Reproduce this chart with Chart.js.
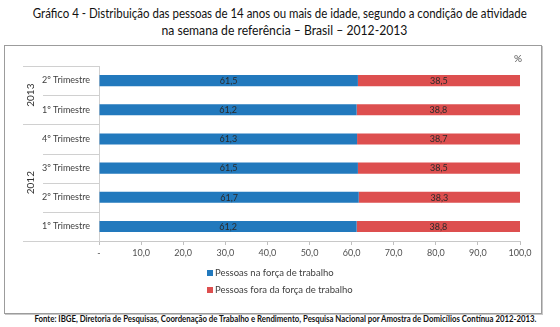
<!DOCTYPE html>
<html>
<head>
<meta charset="utf-8">
<script src="https://cdn.jsdelivr.net/npm/chart.js@4"></script>
<style>
  body { margin: 0; background: #fff; width: 560px; height: 327px; position: relative; font-family: Lato, "Open Sans", sans-serif; overflow: hidden; }
  .line { position: absolute; left: -220px; width: 1000px; text-align: center; white-space: nowrap; }
  .line span { display: inline-block; transform-origin: 50% 50%; }
  #t1 { top: 5px; }
  #t2 { top: 22px; left: -216px; }
  .title { font-size: 13.5px; line-height: 17px; color: #111; }
  #box { position: absolute; left: 4px; top: 45px; width: 536px; height: 267px; border: 1px solid #9c9c9c; box-shadow: 1px 1px 0 #c8c8c8; }
  #wrap { position: absolute; left: 0; top: 0; width: 537px; height: 267px; }
  #legend { position: absolute; left: 202px; top: 220px; font-size: 9.5px; color: #404040; }
  #legend div { height: 17px; line-height: 14px; }
  #legend span.sw { display: inline-block; width: 6px; height: 6px; margin-right: 2px; vertical-align: 0px; }
  #fonte { top: 313px; left: -215px; font-size: 8.8px; font-weight: bold; color: #111; }
</style>
</head>
<body>
<div class="line title" id="t1"><span>Gráfico 4 - Distribuição das pessoas de 14 anos ou mais de idade, segundo a condição de atividade</span></div>
<div class="line title" id="t2"><span>na semana de referência – Brasil – 2012-2013</span></div>
<div id="box">
  <div id="wrap"><canvas id="chart"></canvas></div>
  <div id="legend"></div>
</div>
<div class="line" id="fonte"><span>Fonte: IBGE, Diretoria de Pesquisas, Coordenação de Trabalho e Rendimento, Pesquisa Nacional por Amostra de Domicílios Contínua 2012-2013.</span></div>

<script>
//data, top to bottom as in the picture
const quarters = ['2º Trimestre', '1º Trimestre', '4º Trimestre', '3º Trimestre', '2º Trimestre', '1º Trimestre'];
const years = ['2013', '2013', '2012', '2012', '2012', '2012'];
const naForca = [61.5, 61.2, 61.3, 61.5, 61.7, 61.2];
const foraForca = [38.5, 38.8, 38.7, 38.5, 38.3, 38.8];
const seriesNames = ['Pessoas na força de trabalho', 'Pessoas fora da força de trabalho'];
const seriesColors = ['#2279bd', '#dd4f4f'];
const xTicks = [0, 10, 20, 30, 40, 50, 60, 70, 80, 90, 100];

function fmt(v) {
    return v.toFixed(1).replace('.', ',');
}

//squeeze a text line to a width, the original font (Calibri) is narrower
function squeeze(id, width) {
    const span = document.querySelector('#' + id + ' span');
    const k = width / span.getBoundingClientRect().width;
    span.style.transform = 'scaleX(' + k + ')';
}
squeeze('t1', 494);
squeeze('t2', 246);
squeeze('fonte', 502);

//draws the year groups, separators, % sign and value labels
const extras = {
    id: 'extras',
    afterDraw(chart) {
        const ctx = chart.ctx;
        const y = chart.scales.y;
        const area = chart.chartArea;
        const half = (y.getPixelForValue(1) - y.getPixelForValue(0)) / 2;
        ctx.save();
        ctx.strokeStyle = '#d0d0d0';
        ctx.lineWidth = 1;
        for (let i = 0; i <= quarters.length; i++) {
            const py = Math.round(y.getPixelForValue(i) - half) + 0.5;
            const groupEdge = i == 0 || i == quarters.length || years[i] != years[i - 1];
            ctx.beginPath();
            ctx.moveTo(groupEdge ? 18 : 38, py);
            ctx.lineTo(area.left, py);
            ctx.stroke();
        }
        //year labels, rotated
        ctx.fillStyle = '#303030';
        ctx.font = '10px Lato';
        ctx.textAlign = 'center';
        ctx.textBaseline = 'middle';
        let start = 0;
        for (let i = 1; i <= years.length; i++) {
            if (i == years.length || years[i] != years[start]) {
                const mid = (y.getPixelForValue(start) + y.getPixelForValue(i - 1)) / 2;
                ctx.save();
                ctx.translate(26, mid);
                ctx.rotate(-Math.PI / 2);
                ctx.fillText(years[start], 0, 0);
                ctx.restore();
                start = i;
            }
        }
        //percent sign
        ctx.fillStyle = '#505050';
        ctx.fillText('%', area.right - 2, area.top - 7);
        //value labels
        ctx.font = '9px Lato';
        ctx.fillStyle = '#2a2a2a';
        chart.data.datasets.forEach((ds, di) => {
            chart.getDatasetMeta(di).data.forEach((bar, i) => {
                ctx.fillText(fmt(ds.data[i]), (bar.x + bar.base) / 2, bar.y + 0.5);
            });
        });
        ctx.restore();
    }
};

const chart = new Chart(document.getElementById('chart'), {
    type: 'bar',
    data: {
        labels: quarters,
        datasets: [
            { label: seriesNames[0], data: naForca, backgroundColor: seriesColors[0] },
            { label: seriesNames[1], data: foraForca, backgroundColor: seriesColors[1] }
        ]
    },
    options: {
        indexAxis: 'y',
        responsive: true,
        maintainAspectRatio: false,
        animation: false,
        events: [],
        layout: { padding: { left: 0, right: 22, top: 20, bottom: 52 } },
        datasets: { bar: { barPercentage: 0.38, categoryPercentage: 1 } },
        plugins: { legend: { display: false }, tooltip: { enabled: false } },
        scales: {
            x: {
                stacked: true,
                min: 0,
                max: 100,
                afterBuildTicks: s => { s.ticks = xTicks.map(v => ({ value: v })); },
                afterFit: s => { s.height = 20; },
                grid: { drawOnChartArea: false, tickLength: 4, color: '#c0c0c0' },
                border: { color: '#c8c8c8' },
                ticks: {
                    color: '#505050',
                    font: { family: 'Lato', size: 9 },
                    padding: 3,
                    maxRotation: 0,
                    callback: v => v == 0 ? '-' : fmt(v)
                }
            },
            y: {
                stacked: true,
                afterFit: s => { s.width = 94; },
                grid: { display: false, tickLength: 0 },
                border: { color: '#d0d0d0' },
                ticks: {
                    color: '#404040',
                    font: { family: 'Lato', size: 9 },
                    padding: 9
                }
            }
        }
    },
    plugins: [extras]
});

//legend under the chart, one item per line
const legend = document.getElementById('legend');
seriesNames.forEach((name, i) => {
    const row = document.createElement('div');
    row.innerHTML = '<span class="sw" style="background:' + seriesColors[i] + '"></span>' + name;
    legend.appendChild(row);
});
</script>
</body>
</html>
